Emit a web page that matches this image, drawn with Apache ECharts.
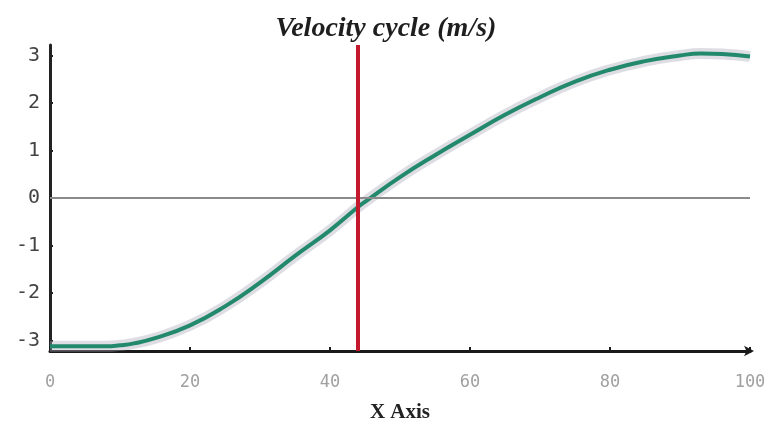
<!DOCTYPE html>
<html>
<head>
<meta charset="utf-8">
<script src="https://cdn.jsdelivr.net/npm/echarts@6/dist/echarts.min.js"></script>
<style>html,body{margin:0;padding:0;background:#fff;}#chart{width:772px;height:425px;}</style>
</head>
<body>
<div id="chart"></div>
<script>
var xValues = [0, 5, 8, 10, 12, 15, 20, 25, 30, 35, 40, 44, 45, 50, 55, 60, 65, 70, 75, 80, 85, 90, 93, 96, 100];
var velocity = [-3.12, -3.12, -3.12, -3.10, -3.06, -2.95, -2.68, -2.28, -1.78, -1.22, -0.68, -0.19, -0.08, 0.44, 0.90, 1.33, 1.75, 2.12, 2.45, 2.70, 2.88, 3.00, 3.04, 3.03, 2.98];
var yTickLabels = [-3, -2, -1, 0, 1, 2, 3];
var xTickLabels = [0, 20, 40, 60, 80, 100];
var markerX = 44;
var zeroY = 0;

var pts = xValues.map(function (x, i) { return [x, velocity[i]]; });

var chart = echarts.init(document.getElementById('chart'), null, { renderer: 'canvas' });
chart.setOption({
  animation: false,
  backgroundColor: '#ffffff',
  title: {
    text: 'Velocity cycle (m/s)',
    left: 'center',
    top: 10,
    textStyle: { fontFamily: 'Liberation Serif', fontStyle: 'italic', fontWeight: 'bold', fontSize: 28, color: '#1e1e1e' }
  },
  grid: { left: 50, right: 22, top: 45, bottom: 74, containLabel: false, outerBoundsMode: 'none' },
  xAxis: {
    type: 'value',
    min: 0, max: 100, interval: 20,
    name: 'X Axis',
    nameLocation: 'middle',
    nameGap: 51,
    nameTextStyle: { fontFamily: 'Liberation Serif', fontWeight: 'bold', fontSize: 21, color: '#222' },
    axisLine: { show: true, onZero: false, symbol: ['none', 'arrow'], symbolSize: [8, 10], symbolOffset: [0, 4], lineStyle: { color: '#1a1a1a', width: 3 } },
    axisTick: { show: true, inside: true, length: 4, lineStyle: { color: '#1a1a1a', width: 2 } },
    axisLabel: { margin: 23, color: '#a0a0a0', fontFamily: 'DejaVu Sans Mono', fontSize: 17,
      formatter: function (v) { return xTickLabels.indexOf(v) >= 0 ? String(v) : ''; } },
    splitLine: { show: false }
  },
  yAxis: {
    type: 'value',
    min: -3.22, max: 3.22,
    axisLine: { show: true, onZero: false, lineStyle: { color: '#222', width: 3 } },
    axisTick: { show: true, inside: true, length: 3, customValues: yTickLabels, lineStyle: { color: '#222', width: 2 } },
    axisLabel: { margin: 10, color: '#444', fontFamily: 'DejaVu Sans Mono', fontSize: 20, customValues: yTickLabels,
      formatter: function (v) { return String(Math.round(v)); } },
    splitLine: { show: false }
  },
  series: [
    {
      type: 'line',
      data: pts,
      smooth: true,
      showSymbol: false,
      silent: true,
      z: 2,
      lineStyle: { color: 'rgba(170,170,185,0.4)', width: 11 },
      markLine: {
        silent: true, symbol: 'none', label: { show: false },
        lineStyle: { color: '#8a8a8a', width: 2, type: 'solid' },
        data: [{ yAxis: zeroY }]
      }
    },
    {
      type: 'line',
      data: pts,
      smooth: true,
      showSymbol: false,
      z: 4,
      lineStyle: { color: '#23896d', width: 4 },
      markLine: {
        silent: true, symbol: 'none', label: { show: false },
        lineStyle: { color: '#c4182c', width: 4, type: 'solid' },
        data: [{ xAxis: markerX }]
      }
    }
  ]
});
</script>
</body>
</html>
